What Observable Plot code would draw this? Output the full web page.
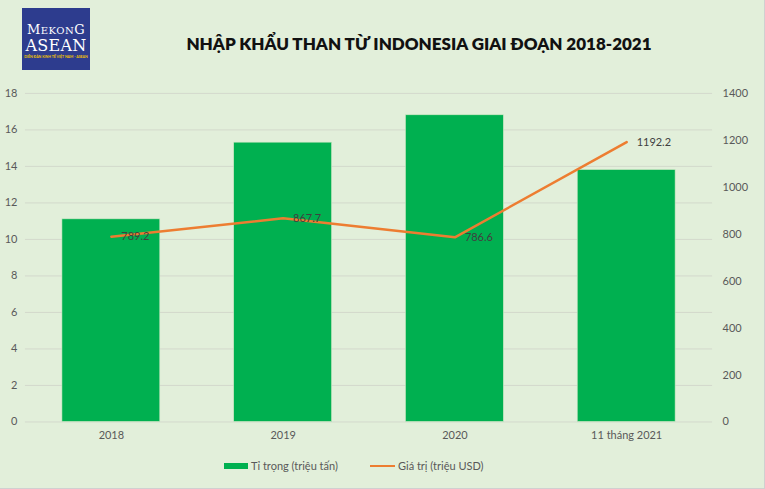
<!DOCTYPE html>
<html>
<head>
<meta charset="utf-8">
<script src="https://cdn.jsdelivr.net/npm/d3@7"></script>
<script src="https://cdn.jsdelivr.net/npm/@observablehq/plot@0.6"></script>
<style>
  html, body { margin: 0; padding: 0; background: #E2EFDA; }
  #wrap { position: relative; width: 764px; height: 488px; background: #E2EFDA;
          border-right: 1px solid #d0d0d0; border-bottom: 1px solid #d0d0d0; font-family: Lato, "Open Sans", sans-serif; overflow: hidden; }
  #chart { position: absolute; left: 0; top: 0; }
  #logo { position: absolute; left: 22px; top: 8px; width: 68px; height: 62px; background: #2D3C8E; color: #fff; text-align: center; }
  #logo .m { font-family: "DejaVu Serif", serif; font-size: 13px; letter-spacing: 0.5px; margin-top: 15px; line-height: 14px; }
  #logo .a { font-family: "DejaVu Serif", serif; font-size: 16px; line-height: 16px; letter-spacing: 0.3px; }
  #logo .t { font-size: 3.5px; color: #F2C400; font-weight: bold; line-height: 6px; white-space: nowrap; }
  #title { position: absolute; left: 0; width: 838px; top: 33px; text-align: center; font-weight: 800; font-size: 17px; color: #111; font-family: Lato, "Open Sans", sans-serif; }
  .leg { position: absolute; top: 459px; font-size: 11px; color: #595959; white-space: nowrap; }
</style>
</head>
<body>
<div id="wrap">
  <div id="chart"></div>
  <div id="logo"><div class="m">M<span style="font-size:10px">EKON</span>G</div><div class="a">ASEAN</div><div class="t">DIỄN ĐÀN KINH TẾ VIỆT NAM - ASEAN</div></div>
  <div id="title">NHẬP KHẨU THAN TỪ INDONESIA GIAI ĐOẠN 2018-2021</div>
  <div class="leg" style="left:224px;"><span style="display:inline-block;width:24px;height:6px;background:#00B050;vertical-align:middle;margin-right:3px;position:relative;top:-1px"></span>Tỉ trọng (triệu tấn)</div>
  <div class="leg" style="left:370px;"><span style="display:inline-block;width:25px;height:2.5px;background:#ED7D31;vertical-align:middle;margin-right:3px;position:relative;top:-1px"></span>Giá trị (triệu USD)</div>
</div>
<script>
const categories = ["2018", "2019", "2020", "11 tháng 2021"];
const volume = [11.1, 15.3, 16.8, 13.8];        // Tỉ trọng (triệu tấn)
const value = [789.2, 867.7, 786.6, 1192.2];    // Giá trị (triệu USD)
const leftTicks = [0, 2, 4, 6, 8, 10, 12, 14, 16, 18];
const rightTicks = [0, 200, 400, 600, 800, 1000, 1200, 1400];

const LMAX = 18, RMAX = 1400;
const toLeft = v => v * LMAX / RMAX;

const data = categories.map((c, i) => ({cat: c, vol: volume[i], val: value[i]}));

const chart = Plot.plot({
  width: 765,
  height: 489,
  marginTop: 93,
  marginBottom: 67,
  marginLeft: 25,
  marginRight: 52,
  style: {background: "transparent", fontFamily: "Lato, 'Open Sans', sans-serif", fontSize: "11px"},
  x: {domain: categories, paddingInner: 0.43, paddingOuter: 0.215, label: null},
  y: {domain: [0, LMAX], label: null},
  marks: [
    Plot.gridY(leftTicks, {stroke: "#d3d9cc", strokeOpacity: 1}),
    Plot.barY(data, {x: "cat", y: "vol", fill: "#00B050", stroke: "#cfe8c4", strokeWidth: 0.6}),
    Plot.line(data, {x: "cat", y: d => toLeft(d.val), stroke: "#ED7D31", strokeWidth: 2.5}),
    Plot.text(data, {x: "cat", y: d => toLeft(d.val), text: d => d.val.toFixed(1), textAnchor: "start", dx: 10, fill: "#404040", fontSize: 11}),
    Plot.axisY(leftTicks, {anchor: "left", tickSize: 0, tickPadding: 8, fill: "#595959", label: null, fontSize: 11}),
    Plot.axisY(rightTicks.map(toLeft), {anchor: "right", tickSize: 0, tickPadding: 10, textAnchor: "start", fill: "#595959", label: null, fontSize: 11,
      tickFormat: d => String(Math.round(d * RMAX / LMAX))}),
    Plot.axisX({tickSize: 0, tickPadding: 9, fill: "#595959", label: null, fontSize: 11})
  ]
});
document.getElementById("chart").appendChild(chart);
</script>
</body>
</html>
